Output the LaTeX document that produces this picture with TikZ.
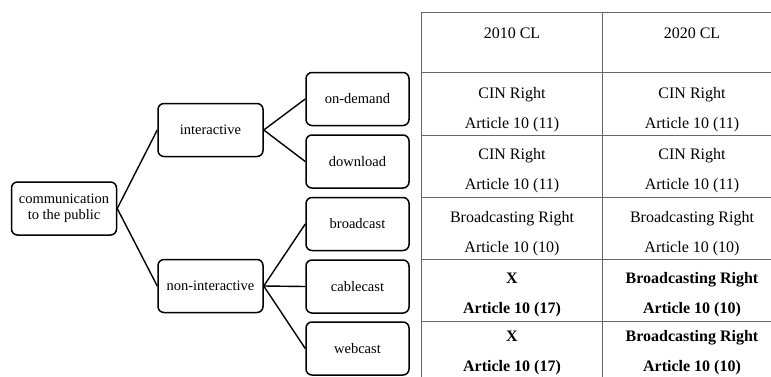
\documentclass[tikz,border=0pt]{standalone}
\usepackage{fontspec}
\setmainfont{Liberation Serif}
\usetikzlibrary{positioning}

\tikzset{
  box/.style={draw, line width=1.5pt, rounded corners=6pt, minimum width=105pt,
    minimum height=53pt, inner sep=2pt, align=center,
    font=\fontsize{14.5}{16}\selectfont},
  leaf/.style={box, minimum width=103pt},
  link/.style={line width=1.4pt},
  rule/.style={draw=black!60, line width=1pt},
  cell/.style={align=center, inner sep=0pt, font=\fontsize{16}{30}\selectfont}
}

\begin{document}
\begin{tikzpicture}[x=1pt,y=-1pt]
    \useasboundingbox (0,0) rectangle (771,376);
    \clip (0,0) rectangle (771,376);

    %tree
    \node[box] (root) at (64,208.5) {communication\\to the public};
    \node[box] (inter) at (210.5,130) {interactive};
    \node[box] (noninter) at (210.5,286) {non-interactive};

    \node[leaf] (ondemand) at (357.5,99) {on-demand};
    \node[leaf] (download) at (357.5,161.5) {download};
    \node[leaf] (broadcast) at (357.5,224) {broadcast};
    \node[leaf] (cablecast) at (357.5,286.5) {cablecast};
    \node[leaf] (webcast) at (357.5,348.5) {webcast};

    \draw[link] (root.east) -- (inter.west);
    \draw[link] (root.east) -- (noninter.west);
    \draw[link] (inter.east) -- (ondemand.west);
    \draw[link] (inter.east) -- (download.west);
    \draw[link] (noninter.east) -- (broadcast.west);
    \draw[link] (noninter.east) -- (cablecast.west);
    \draw[link] (noninter.east) -- (webcast.west);

    %table
    \foreach \y in {12,72.5,135,197,259,321}
        \draw[rule] (421,\y) -- (790,\y);
    \draw[rule] (421,12) -- (421,390);
    \draw[rule] (602,12) -- (602,390);

    \node[cell] (head1) at (512,33) {2010 CL};
    \node[cell] (head2) at (692,33) {2020 CL};

    \node[cell] (od1) at (512,110) {CIN Right\\Article 10 (11)};
    \node[cell] (od2) at (692,110) {CIN Right\\Article 10 (11)};
    \node[cell] (dl1) at (512,171) {CIN Right\\Article 10 (11)};
    \node[cell] (dl2) at (692,171) {CIN Right\\Article 10 (11)};
    \node[cell] (bc1) at (512,234) {Broadcasting Right\\Article 10 (10)};
    \node[cell] (bc2) at (692,234) {Broadcasting Right\\Article 10 (10)};
    \node[cell] (cc1) at (512,295) {\textbf{X}\\\textbf{Article 10 (17)}};
    \node[cell] (cc2) at (692,295) {\textbf{Broadcasting Right}\\\textbf{Article 10 (10)}};
    \node[cell] (wc1) at (512,353) {\textbf{X}\\\textbf{Article 10 (17)}};
    \node[cell] (wc2) at (692,353) {\textbf{Broadcasting Right}\\\textbf{Article 10 (10)}};
\end{tikzpicture}
\end{document}
